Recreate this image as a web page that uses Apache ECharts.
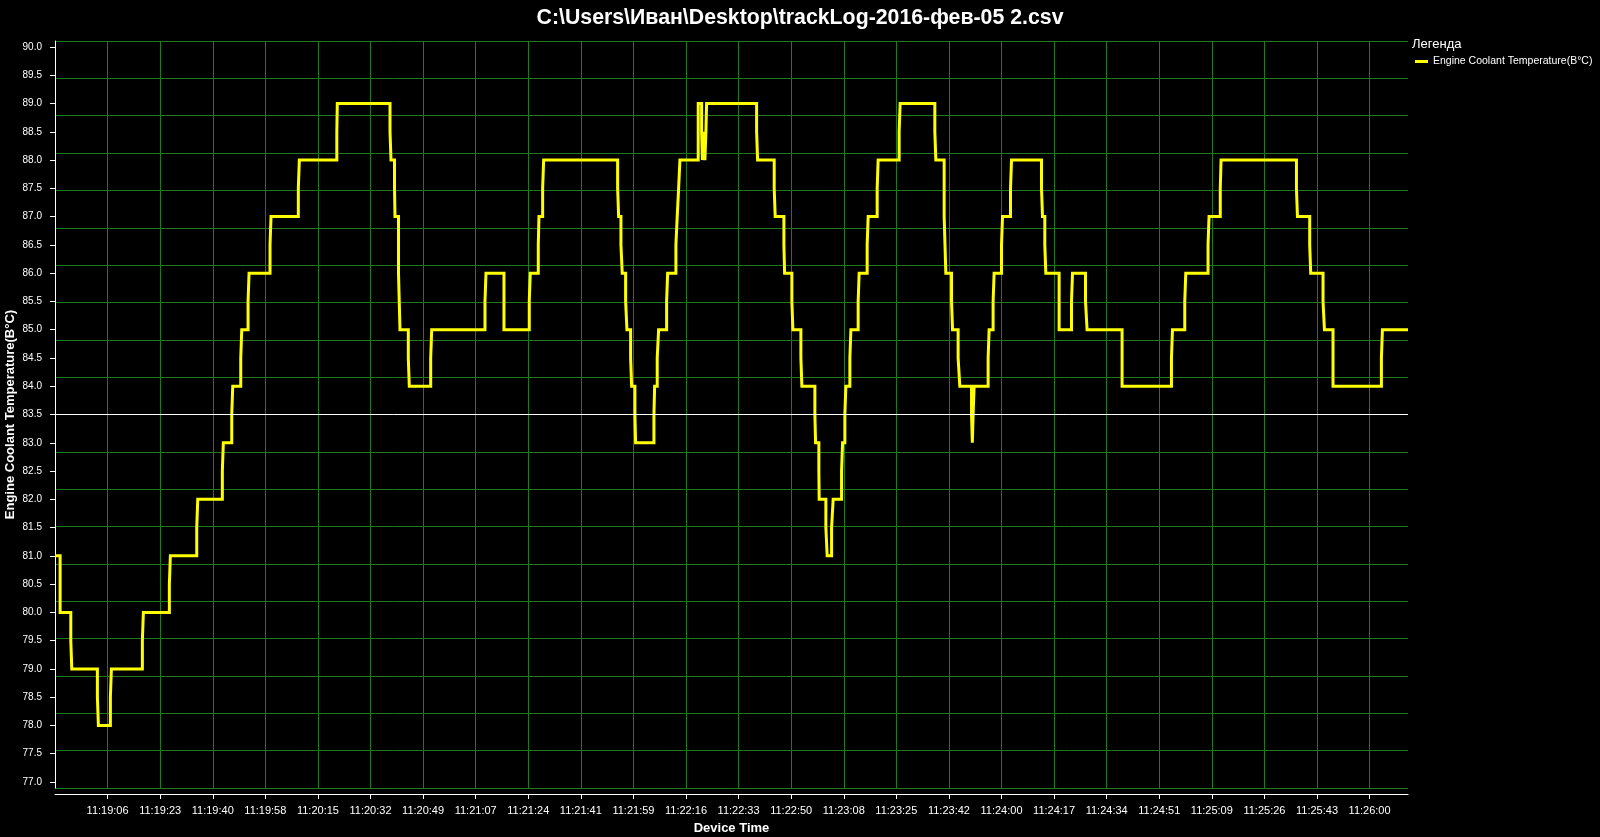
<!DOCTYPE html>
<html>
<head>
<meta charset="utf-8">
<script src="https://cdn.jsdelivr.net/npm/echarts@6/dist/echarts.min.js"></script>
<style>
html,body{margin:0;padding:0;background:#000;}
#chart{width:1600px;height:837px;}
</style>
</head>
<body>
<div id="chart"></div>
<script>
// ---- DATA ----
const chartTitle = 'C:\\Users\\Иван\\Desktop\\trackLog-2016-фев-05 2.csv';
const seriesName = 'Engine Coolant Temperature(B°C)';
// seconds elapsed since 11:18:48.98 (axis start)
const timeSec = [
  0, 1.68, 5.19, 5.52, 13.93, 14.26, 18.20, 18.53, 28.71, 29.04,
  37.58, 37.91, 46.58, 46.91, 54.99, 55.32, 58.08, 58.41, 61.04, 61.37,
  63.44, 63.77, 70.66, 70.99, 79.96, 80.29, 92.61, 92.77, 110.09, 110.42,
  111.57, 111.73, 112.88, 113.37, 116.10, 116.43, 123.46, 123.79, 141.30, 141.63,
  147.54, 155.85, 156.18, 158.81, 159.04, 160.25, 160.58, 184.89, 185.22, 185.98,
  186.40, 187.52, 187.95, 189.16, 189.49, 190.57, 190.80, 196.82, 197.05, 197.90,
  198.36, 200.99, 201.32, 204.04, 204.47, 204.93, 205.36, 211.37, 212.49, 212.75,
  213.24, 213.57, 213.90, 214.13, 230.56, 230.89, 236.34, 236.67, 239.53, 239.76,
  242.15, 242.48, 245.11, 245.44, 249.71, 249.94, 251.02, 251.12, 253.32, 253.75,
  255.20, 255.72, 258.48, 258.81, 259.56, 259.89, 261.21, 261.54, 263.93, 264.26,
  266.89, 267.22, 270.18, 270.50, 277.40, 277.73, 289.13, 289.46, 292.19, 292.74,
  294.62, 294.95, 296.78, 297.34, 301.19, 301.45, 301.71, 302.04, 306.64, 306.97,
  308.28, 308.61, 311.04, 311.37, 314.00, 314.33, 324.18, 324.51, 325.27, 325.60,
  329.97, 334.04, 334.37, 338.64, 339.16, 350.66, 366.89, 367.22, 371.26, 371.59,
  378.91, 379.24, 382.93, 383.19, 407.96, 408.29, 412.32, 412.65, 416.70, 417.16,
  419.98, 435.88, 436.21, 444.62
];
const coolantTemp = [
  81, 80, 79.5, 79, 78.5, 78, 78.5, 79, 79.5, 80,
  80.5, 81, 81.5, 82, 82.5, 83, 83.5, 84, 84.5, 85,
  85.5, 86, 86.5, 87, 87.5, 88, 88.5, 89, 88.5, 88,
  87.5, 87, 86, 85, 84.5, 84, 84.5, 85, 85.5, 86,
  85, 85.5, 86, 86.5, 87, 87.5, 88, 87.5, 87, 86.5,
  86, 85.5, 85, 84.5, 84, 83.5, 83, 83.5, 84, 84.5,
  85, 85.5, 86, 86.5, 87, 87.5, 88, 89, 88.5, 88,
  88.5, 88, 88.5, 89, 88.5, 88, 87.5, 87, 86.5, 86,
  85.5, 85, 84.5, 84, 83.5, 83, 82.5, 82, 81.5, 81,
  81.5, 82, 82.5, 83, 83.5, 84, 84.5, 85, 85.5, 86,
  86.5, 87, 87.5, 88, 88.5, 89, 88.5, 88, 87, 86,
  85.5, 85, 84.5, 84, 83.5, 83, 83.5, 84, 84.5, 85,
  85.5, 86, 86.5, 87, 87.5, 88, 87.5, 87, 86.5, 86,
  85, 85.5, 86, 85.5, 85, 84, 84.5, 85, 85.5, 86,
  86.5, 87, 87.5, 88, 87.5, 87, 86.5, 86, 85.5, 85,
  84, 84.5, 85, 85
];
const xTickLabels = ['11:19:06','11:19:23','11:19:40','11:19:58','11:20:15','11:20:32','11:20:49','11:21:07','11:21:24','11:21:41','11:21:59','11:22:16','11:22:33','11:22:50','11:23:08','11:23:25','11:23:42','11:24:00','11:24:17','11:24:34','11:24:51','11:25:09','11:25:26','11:25:43','11:26:00'];
const tickStepSec = 17.28;
const xMaxSec = 444.62;
const yTickValues = [77.0,77.5,78.0,78.5,79.0,79.5,80.0,80.5,81.0,81.5,82.0,82.5,83.0,83.5,84.0,84.5,85.0,85.5,86.0,86.5,87.0,87.5,88.0,88.5,89.0,89.5,90.0];
const yMin = 76.894, yMax = 90.106;
const refLineValue = 83.5;

// ---- CHART ----
const seriesData = timeSec.map((t, i) => [t, coolantTemp[i]]);
const xTickValues = xTickLabels.map((_, i) => tickStepSec * (i + 1));
const gridGreen = '#1d7a1d';
const font = '"Liberation Sans", Arial, sans-serif';

const chart = echarts.init(document.getElementById('chart'), null, {renderer: 'canvas'});
chart.setOption({
  backgroundColor: '#000',
  animation: false,
  title: {
    text: chartTitle, left: 'center', top: 8, padding: 0,
    textStyle: {color: '#ffffff', fontSize: 21.3, fontWeight: 'bold', fontFamily: font}
  },
  legend: {
    left: 1415, top: 56, padding: 0, icon: 'rect', itemWidth: 13, itemHeight: 3, itemGap: 5,
    textStyle: {color: '#ffffff', fontSize: 10.5, fontFamily: font},
    data: [seriesName]
  },
  graphic: [{
    type: 'text', left: 1412, top: 38,
    style: {text: 'Легенда', fill: '#ffffff', font: '13px ' + font}
  }],
  grid: {left: 55, right: 192, top: 41, bottom: 49, containLabel: false, outerBoundsMode: 'none'},
  xAxis: {
    type: 'value', min: 0, max: xMaxSec, interval: tickStepSec,
    name: 'Device Time', nameLocation: 'middle', nameGap: 28,
    nameTextStyle: {color: '#ffffff', fontSize: 13, fontWeight: 'bold', fontFamily: font},
    offset: 6,
    axisLine: {show: true, onZero: false, lineStyle: {color: '#ffffff', width: 1}},
    axisTick: {show: true, length: 5, customValues: xTickValues, lineStyle: {color: '#ffffff'}},
    axisLabel: {
      color: '#ffffff', fontSize: 11, fontFamily: font, margin: 11,
      customValues: xTickValues,
      formatter: v => xTickLabels[Math.round(v / tickStepSec) - 1] || ''
    },
    splitLine: {show: true, lineStyle: {color: gridGreen, width: 1}}
  },
  yAxis: [{
    type: 'value', min: yMin, max: yMax,
    name: seriesName, nameLocation: 'middle', nameGap: 33, nameRotate: 90, nameMoveOverlap: false,
    nameTextStyle: {color: '#ffffff', fontSize: 13, fontWeight: 'bold', fontFamily: font},
    offset: 5,
    axisLine: {show: true, lineStyle: {color: '#ffffff', width: 1}},
    axisTick: {show: true, length: 5, customValues: yTickValues, lineStyle: {color: '#ffffff'}},
    axisLabel: {
      color: '#ffffff', fontSize: 10, fontFamily: font, margin: 8,
      customValues: yTickValues,
      formatter: v => Number(v).toFixed(1)
    },
    splitLine: {show: false}
  }, {
    type: 'value', min: 0, max: 20, interval: 1, position: 'right',
    axisLine: {show: false}, axisTick: {show: false}, axisLabel: {show: false},
    splitLine: {show: true, lineStyle: {color: gridGreen, width: 1}}
  }],
  series: [{
    name: seriesName, type: 'line', yAxisIndex: 0, step: 'end',
    data: seriesData, showSymbol: false, symbol: 'none',
    lineStyle: {color: '#ffff00', width: 3, join: 'miter'},
    itemStyle: {color: '#ffff00'},
    markLine: {
      silent: true, symbol: ['none', 'none'], label: {show: false},
      lineStyle: {color: '#ffffff', width: 1, type: 'solid'},
      data: [{yAxis: refLineValue}]
    }
  }]
});
</script>
</body>
</html>
